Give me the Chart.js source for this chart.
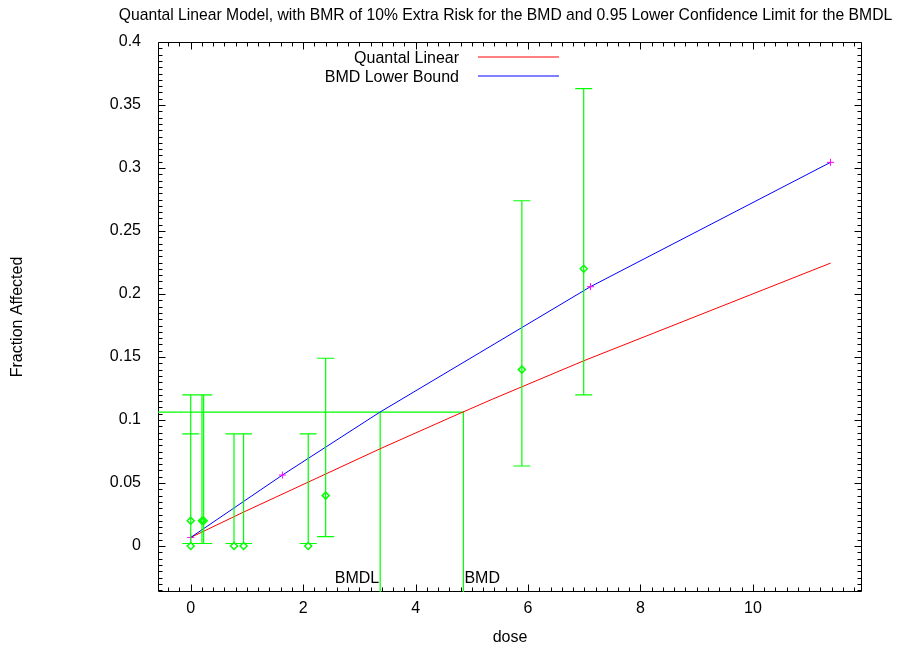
<!DOCTYPE html>
<html>
<head>
<meta charset="utf-8">
<script src="https://cdn.jsdelivr.net/npm/chart.js@4.4.0/dist/chart.umd.min.js"></script>
<style>
  html, body { margin: 0; padding: 0; background: #fff; }
</style>
</head>
<body>
<canvas id="grafico" width="911" height="647"></canvas>
<script>
// dados observados (dose, fracao afetada e barras de erro)
const doses = [0, 0, 0.2, 0.23, 0.77, 0.94, 2.09, 2.4, 5.89, 6.99]
const observado = [0, 0.02, 0.02, 0.02, 0, 0, 0, 0.04, 0.14, 0.22]
const erroInf = [0.002, 0.002, 0.002, 0.002, 0.002, 0.002, 0.002, 0.0074, 0.0635, 0.12]
const erroSup = [0.089, 0.12, 0.12, 0.12, 0.089, 0.089, 0.089, 0.149, 0.274, 0.363]

// curva do modelo (vermelho) e limite inferior (azul)
const modeloDose = [0, 0.93, 3.36, 4.61, 5.36, 6.99, 11.38]
const modeloValor = [0.0068, 0.0267, 0.077, 0.1018, 0.1164, 0.147, 0.2245]
const limiteDose = [0, 1.63, 3.36, 5.14, 7.11, 11.38]
const limiteValor = [0.0068, 0.0563, 0.1061, 0.1534, 0.2058, 0.3045]
const marcasDose = [0, 1.63, 7.11, 11.38]
const marcasValor = [0.0068, 0.0563, 0.2058, 0.3045]

// BMD / BMDL
const nivelBMR = 0.1063
const bmd = 4.85
const bmdl = 3.37

// eixos
const xMin = -0.582, xMax = 11.94
const yMin = -0.0365, yMax = 0.4
const xTicks = [0, 2, 4, 6, 8, 10]
const yTicks = [0, 0.05, 0.1, 0.15, 0.2, 0.25, 0.3, 0.35, 0.4]
const xPassoMenor = 0.2
const yPassoMenor = 0.005

const titulo = 'Quantal Linear Model, with BMR of 10% Extra Risk for the BMD and 0.95 Lower Confidence Limit for the BMDL'
const legendas = ['Quantal Linear', 'BMD Lower Bound']
const coresLegenda = ['#ff0000', '#0000ff']

const verde = '#00ff00'
const fonte = '"Liberation Sans", Arial, sans-serif'

Chart.defaults.font.family = fonte
Chart.defaults.font.size = 16
Chart.defaults.color = '#000'

const pontos = (xs, ys) => xs.map((x, i) => ({ x: x, y: ys[i] }))

// moldura com marcas para dentro (estilo gnuplot)
const moldura = {
    id: 'moldura',
    beforeDatasetsDraw(chart) {
        const { ctx, chartArea: a, scales: { x, y } } = chart
        const l = Math.round(a.left) + 0.5, r = Math.round(a.right) - 0.5
        const t = Math.round(a.top) + 0.5, b = Math.round(a.bottom) - 0.5
        ctx.save()
        ctx.strokeStyle = '#000'
        ctx.lineWidth = 1
        ctx.beginPath()
        ctx.rect(l, t, r - l, b - t)
        for (let i = Math.ceil(xMin / xPassoMenor); i * xPassoMenor <= xMax; i++) {
            const px = Math.round(x.getPixelForValue(i * xPassoMenor)) + 0.5
            const len = i % 10 === 0 ? 7 : 4
            ctx.moveTo(px, b); ctx.lineTo(px, b - len)
            ctx.moveTo(px, t); ctx.lineTo(px, t + len)
        }
        for (let i = Math.ceil(yMin / yPassoMenor); i * yPassoMenor <= yMax + 1e-9; i++) {
            const py = Math.round(y.getPixelForValue(i * yPassoMenor)) + 0.5
            const len = i % 10 === 0 ? 7 : 4
            ctx.moveTo(l, py); ctx.lineTo(l + len, py)
            ctx.moveTo(r, py); ctx.lineTo(r - len, py)
        }
        ctx.stroke()
        ctx.restore()
    },
    afterDatasetsDraw(chart) {
        const { ctx, scales: { x, y } } = chart
        // barras de erro
        ctx.save()
        ctx.strokeStyle = verde
        ctx.lineWidth = 1.2
        ctx.beginPath()
        doses.forEach((d, i) => {
            const px = x.getPixelForValue(d)
            const lo = y.getPixelForValue(erroInf[i])
            const hi = y.getPixelForValue(erroSup[i])
            ctx.moveTo(px, lo); ctx.lineTo(px, hi)
            ctx.moveTo(px - 8.5, lo); ctx.lineTo(px + 8.5, lo)
            ctx.moveTo(px - 8.5, hi); ctx.lineTo(px + 8.5, hi)
        })
        ctx.stroke()
        ctx.restore()
    },
    afterDraw(chart) {
        const { ctx, scales: { x } } = chart
        ctx.save()
        ctx.fillStyle = '#000'
        ctx.font = '15.7px ' + fonte
        ctx.textBaseline = 'alphabetic'
        ctx.textAlign = 'center'
        ctx.fillText(titulo, 505.5, 20)

        // legenda
        ctx.font = '16px ' + fonte
        ctx.textAlign = 'right'
        legendas.forEach((txt, i) => {
            const yb = 63 + i * 19
            ctx.fillText(txt, 459, yb)
            ctx.strokeStyle = coresLegenda[i]
            ctx.lineWidth = 1
            ctx.beginPath()
            ctx.moveTo(478, yb - 6)
            ctx.lineTo(559, yb - 6)
            ctx.stroke()
        })

        // rotulos BMDL / BMD
        ctx.textAlign = 'right'
        ctx.fillText('BMDL', x.getPixelForValue(bmdl) - 1, 583)
        ctx.textAlign = 'left'
        ctx.fillText('BMD', x.getPixelForValue(bmd) + 1, 583)
        ctx.restore()
    }
}

const ctx = document.getElementById('grafico')

new Chart(ctx, {
    type: 'scatter',
    data: {
        datasets: [
            {
                data: pontos(doses, observado),
                pointStyle: 'rectRot',
                pointRadius: 3.5,
                borderColor: verde,
                backgroundColor: 'rgba(0,0,0,0)',
                borderWidth: 1.5
            },
            {
                data: pontos(marcasDose, marcasValor),
                pointStyle: 'cross',
                pointRadius: 3.5,
                borderColor: '#ff00ff',
                borderWidth: 1
            },
            {
                data: pontos(limiteDose, limiteValor),
                showLine: true,
                pointRadius: 0,
                borderColor: '#0000ff',
                borderWidth: 1
            },
            {
                data: pontos(modeloDose, modeloValor),
                showLine: true,
                pointRadius: 0,
                borderColor: '#ff0000',
                borderWidth: 1
            },
            {
                data: [{ x: xMin, y: nivelBMR }, { x: bmd, y: nivelBMR }, { x: bmd, y: yMin }],
                showLine: true,
                pointRadius: 0,
                borderColor: verde,
                borderWidth: 1.2
            },
            {
                data: [{ x: bmdl, y: nivelBMR }, { x: bmdl, y: yMin }],
                showLine: true,
                pointRadius: 0,
                borderColor: verde,
                borderWidth: 1.2
            }
        ]
    },
    options: {
        responsive: false,
        animation: false,
        events: [],
        layout: { padding: { top: 42, right: 49, left: 0, bottom: 0 } },
        plugins: {
            legend: { display: false },
            tooltip: { enabled: false }
        },
        scales: {
            x: {
                type: 'linear',
                min: xMin,
                max: xMax,
                afterBuildTicks: s => { s.ticks = xTicks.map(v => ({ value: v })) },
                afterFit: s => { s.height = 55 },
                grid: { display: false, drawTicks: false },
                border: { display: false },
                ticks: { padding: 7, maxRotation: 0, callback: v => String(v) },
                title: { display: true, text: 'dose', padding: 0 }
            },
            y: {
                type: 'linear',
                min: yMin,
                max: yMax,
                afterBuildTicks: s => { s.ticks = yTicks.map(v => ({ value: v })) },
                afterFit: s => { s.width = 158 },
                grid: { display: false, drawTicks: false },
                border: { display: false },
                ticks: { padding: 17, callback: v => String(v) },
                title: { display: true, text: 'Fraction Affected', padding: { top: 8 } }
            }
        }
    },
    plugins: [moldura]
})
</script>
</body>
</html>
